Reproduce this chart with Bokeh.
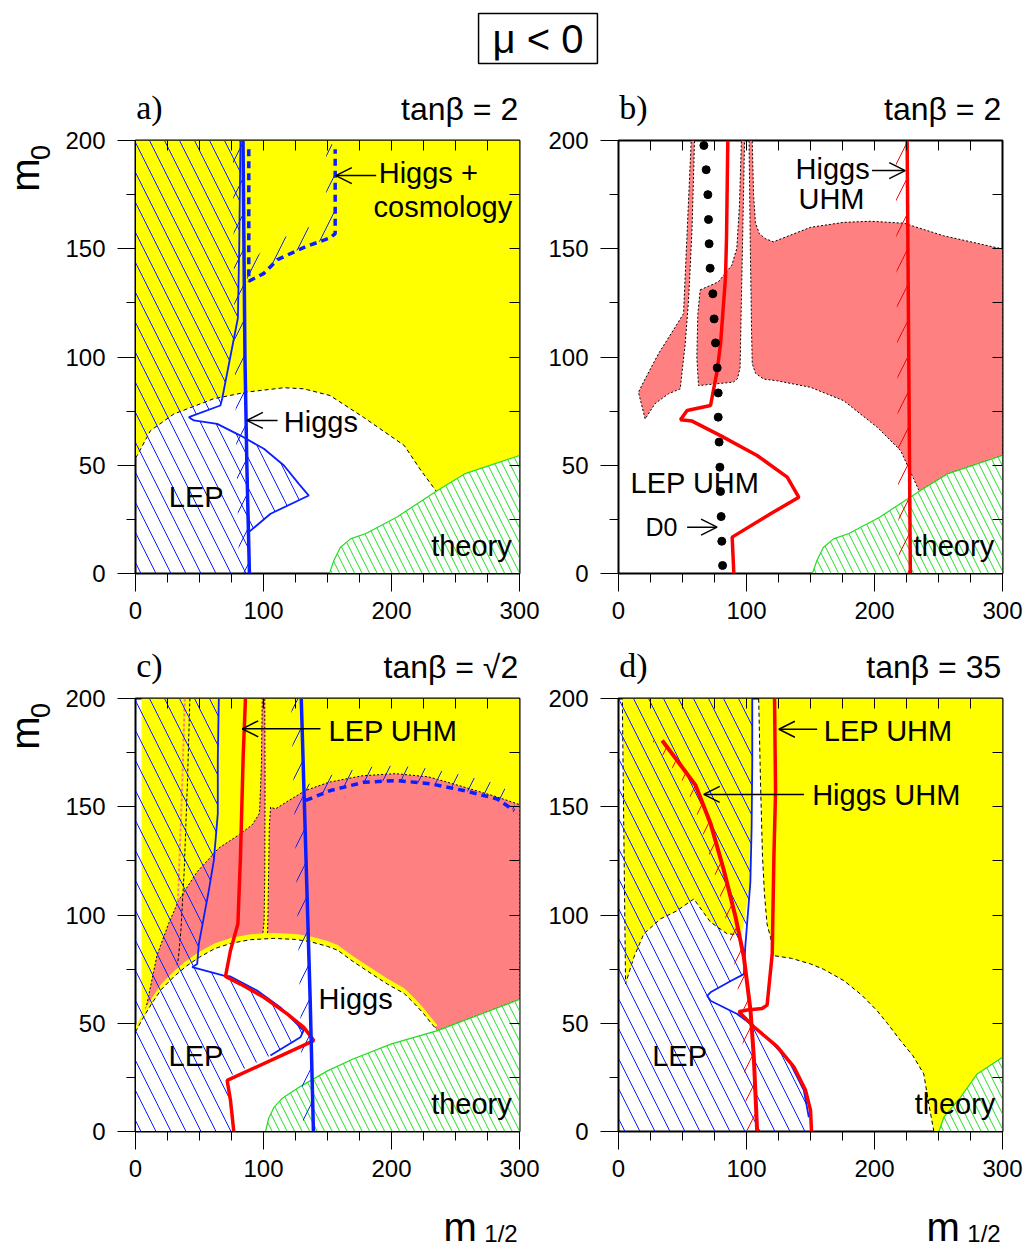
import math
from bokeh.plotting import figure
from bokeh.models import Label, Arrow, OpenHead, LinearAxis, FixedTicker, Range1d
from bokeh.layouts import gridplot, column
from bokeh.embed import file_html
from bokeh.resources import INLINE

# ---------------- data (m_1/2 , m_0) ----------------
X_TICKS = [0, 100, 200, 300]
X_MINOR = [25, 50, 75, 125, 150, 175, 225, 250, 275]
Y_TICKS = [0, 50, 100, 150, 200]
Y_MINOR = [25, 75, 125, 175]
X_INNER = [25, 50, 75, 100, 125, 150, 175, 200, 225, 250, 275]
Y_INNER = [25, 50, 75, 100, 125, 150, 175]

# theory-excluded boundary (panels a, b)
THEORY_AB_X = [151.5, 155, 160, 168, 180, 204, 235, 257, 300]
THEORY_AB_Y = [0, 6, 12, 16, 18.5, 26, 38, 46, 54.5]

# panel a
A_ARC_X = [0, 1.3, 11.7, 30, 61, 87, 116, 131.5, 152, 178, 210, 223, 235]
A_ARC_Y = [53.5, 54.5, 66, 73.7, 80.7, 83.8, 85.8, 85.3, 82.2, 72.2, 59.1, 47.6, 38]
A_LEP_X = [0, 0, 82, 81, 80, 67.7, 66.3, 41.7, 45.6, 63.8, 82, 100.3, 116, 127.6, 135.4, 105.5, 88.5, 89]
A_LEP_Y = [0, 200, 200, 150, 118, 80.7, 77.6, 72.2, 70.7, 69.1, 63.7, 57.6, 49.9, 41.4, 36, 27.6, 19.1, 0]
A_HIGGS_X = [84, 85.5, 87, 89]
A_HIGGS_Y = [200, 100, 50, 0]
A_HC_X = [88.5, 88.5, 100, 111, 133, 152, 156, 156]
A_HC_Y = [196, 135, 138.5, 145, 151, 155, 157, 196]

# panel b
B_WING_X = [56.8, 59.4, 57.5, 55.5, 54.7, 52.1, 48.2, 39, 28.6, 20.8, 15.6, 19.5, 31.2, 44.3, 50.8, 53.4]
B_WING_Y = [200, 200, 160, 135, 126, 106, 85.3, 83, 78.5, 71.4, 83.7, 88.4, 101.5, 113.8, 120, 154.7]
B_MID_X = [63.8, 78, 88.5, 92.4, 94.5, 96, 98.5, 97.5, 96.5, 96, 95, 93, 89.8, 62.5, 61.2, 62]
B_MID_Y = [131, 134.7, 142.4, 150, 170, 200, 200, 170, 140, 126, 95.3, 90, 88.4, 86.8, 100, 120]
B_RIGHT_X = [102, 104.5, 105.5, 107, 110, 114.6, 121, 150, 176, 197, 223, 254, 300, 300, 257, 235,
             220.4, 202.2, 176, 150, 124, 113.5, 107, 104.5, 104, 103]
B_RIGHT_Y = [200, 200, 175, 162, 157, 154.7, 153.2, 159.9, 162.2, 162.7, 161.8, 156, 149.9, 54.5, 46, 38,
             56.8, 67.5, 79.8, 86, 89, 89.8, 92.5, 97, 110, 150]
B_D0_X = [66.7, 68.5, 69.8, 70.3, 70.8, 71.6, 73.7, 74.7, 75.8, 77.1, 77.9, 77.9, 78.6, 79.2, 79.7, 80.2, 80.7, 81.3]
B_D0_Y = [197.7, 186.5, 175, 163.5, 152.3, 141, 129.2, 117.6, 106.5, 95, 83.4, 72.2, 60.7, 49.1, 37.9, 26.3, 14.9, 3.7]
B_LEPUHM_X = [85.4, 84.4, 83.6, 79.7, 77.1, 71.9, 53.6, 48.4, 57.5, 79.7, 108.3, 131.8, 140.9, 118.8, 88.8, 90.1]
B_LEPUHM_Y = [200, 155.3, 136.8, 106, 93.7, 77.6, 75.3, 71, 70.4, 63.7, 54.5, 44.5, 35.2, 27.6, 16.8, 0]
B_HIGGSUHM_X = [225.5, 228]
B_HIGGSUHM_Y = [200, 0]

# panel c
C_THEORY_X = [101.6, 104, 108, 115, 128, 150, 170, 200, 236, 260, 300]
C_THEORY_Y = [0, 6, 11, 15.5, 20.5, 28, 33.5, 40.5, 46.6, 52, 61]
C_ARC_X = [0, 5, 12, 20, 30, 40, 50, 62, 75, 90, 108, 125, 137, 150, 158, 170, 184, 197, 210, 218, 225, 231, 236]
C_ARC_Y = [46, 51.5, 58.5, 65.5, 71.5, 76.5, 80.5, 84.5, 87, 88.6, 89.2, 88.7, 87.6, 85.5, 83.7, 78.5, 73, 68,
           63.7, 59, 54.5, 50, 46.6]
C_YELLOW_X = [4.7, 300, 300, 4.7]
C_YELLOW_Y = [0, 0, 200, 200]
C_LOBE_X = [3.5, 10, 16.9, 26, 33.9, 48.2, 65.1, 80.7, 91.1, 96.9, 98.4, 99, 101, 101.2, 101, 100.5, 99, 90, 75,
            62, 50, 40, 30, 20, 12, 5]
C_LOBE_Y = [44, 62, 81.6, 96.2, 107, 120, 130.9, 137, 141.6, 147, 170, 200, 200, 160, 120, 97, 89, 87, 85,
            82.5, 79, 75, 70, 64.5, 58, 50]
C_RIGHT_X = [103, 103.5, 104, 104.5, 105.5, 109.4, 119.8, 132.8, 151, 177, 203, 229, 255, 281, 300, 300, 236,
             225, 210, 184, 158, 137, 115]
C_RIGHT_Y = [88, 100, 120, 140, 149.8, 149, 152.9, 157.5, 161.3, 164.3, 165.3, 163.8, 159.4, 154.8, 151, 61,
             46.6, 54.5, 63.7, 73, 83.7, 87.6, 89.2]
C_DL1_X = [38.5, 36.5, 34, 32.5, 30.5, 29.5]
C_DL1_Y = [200, 160, 120, 93, 80, 76]
C_DL2_X = [42.5, 40.5, 38, 35.5, 33.5, 32.5]
C_DL2_Y = [200, 160, 120, 93, 80, 77]
C_LEP_X = [0, 0, 65.1, 64.3, 64.3, 61.2, 57.3, 49.5, 48.2, 44.3, 69, 74.2, 95, 113, 131.3, 128.8, 105.4, 71.6,
           72.5, 74, 75]
C_LEP_Y = [0, 200, 200, 172.9, 146.8, 125.2, 111.4, 86.7, 77.4, 75.9, 72, 71.6, 65.1, 57.4, 46.6, 43.5, 35.1,
           25.1, 15, 5, 0]
C_LEPUHM_X = [85.9, 84.1, 82, 80, 74.2, 70.3, 82, 100.3, 118.5, 131.5, 139.3, 71.6, 74.2, 76.8]
C_LEPUHM_Y = [200, 172.9, 126.7, 95.9, 83.6, 71.6, 68.1, 62, 54.3, 48.1, 42, 23.6, 14.4, 0]
C_HIGGS_X = [129.5, 132, 134.5, 136.5, 139]
C_HIGGS_Y = [200, 150, 100, 60, 0]
C_HC_X = [133, 152.3, 178.4, 204.4, 230.5, 256.5, 282.6, 296]
C_HC_Y = [152.9, 157.5, 161.3, 162.1, 160.6, 157.5, 153.6, 148.2]

# panel d
D_YL_X = [3, 104.5, 104.5, 104, 103, 101.8, 98, 95.8, 84.9, 71.9, 58.8, 45.8, 32.8, 19.8, 12, 5.5]
D_YL_Y = [200, 200, 170, 140, 120, 111.6, 96.2, 90.8, 91.3, 96.7, 107.4, 102, 98.2, 91.3, 80.5, 68.2]
D_YR_X = [109.5, 300, 300, 280.2, 267.2, 254.2, 250.3, 246.4, 242, 238.5, 230, 220.3, 210, 202, 190, 176, 160,
          150, 135, 121.4, 118.8, 116, 114, 112.5, 111]
D_YR_Y = [200, 200, 34.3, 26.6, 15.8, 6.6, 0, 0, 14, 26.6, 35, 42, 50, 55.8, 63, 69.7, 75, 77.4, 80, 81.2,
          89.6, 96, 110, 127, 160]
D_THEORY_X = [250.3, 254.2, 267.2, 280.2, 300]
D_THEORY_Y = [0, 6.6, 15.8, 26.6, 34.3]
D_LEP_X = [0, 0, 104.5, 104.5, 104, 103, 101, 99, 98, 88, 71.9, 69.3, 71.9, 92.7, 103, 118.7, 134.4, 144.8,
           148.7, 148.7]
D_LEP_Y = [0, 200, 200, 170, 140, 115, 100, 85, 72.7, 69.6, 64.3, 62.7, 60.4, 54.3, 49.7, 42, 31.3, 19, 6.6, 0]
D_LEPUHM_X = [121.9, 122.7, 121.4, 120.1, 116.1, 112.2, 100.5, 94, 96.6, 105.7, 124, 137, 146.1, 150, 150.8]
D_LEPUHM_Y = [200, 157.3, 126.7, 82.1, 58.4, 56.8, 56.1, 55.3, 53.8, 48.4, 39.2, 29.9, 19.1, 9.9, 0]
D_HIGGSUHM_X = [34.1, 45.8, 60.1, 71.9, 82.3, 91.4, 97.9, 103.1, 105.7, 108.3]
D_HIGGSUHM_Y = [180.6, 171.4, 160, 142.3, 120.7, 99.2, 80.7, 56.1, 34.6, 0]

# ---------------- styles ----------------
YELLOW = "#FFFF00"
SALMON = "#FF8080"
BLUE = "#0A1EFF"
RED = "#FF0000"
GREEN = "#22DD22"
SANS = "Liberation Sans"
SERIF = "Liberation Serif"
FW, FH = 384, 433          # frame size of every panel
TOPB = 12                  # border above each panel frame (room for the "200" tick label)
BOTB = 58                  # border below the lower panels
FOOT = 53                  # height of the strip holding the m_1/2 labels


def panel(left, right, top, bottom):
    p = figure(frame_width=FW, frame_height=FH, x_range=Range1d(0, 300), y_range=Range1d(0, 200),
               output_backend="svg", toolbar_location=None, tools="",
               min_border_left=left, min_border_right=right, min_border_top=top, min_border_bottom=bottom,
               background_fill_color="white", border_fill_color="white")
    p.outline_line_color = "black"
    p.outline_line_width = 2
    p.xgrid.visible = False
    p.ygrid.visible = False
    xa = p.xaxis[0]
    xa.ticker = FixedTicker(ticks=X_TICKS, minor_ticks=X_MINOR)
    ya = p.yaxis[0]
    ya.ticker = FixedTicker(ticks=Y_TICKS, minor_ticks=Y_MINOR)
    for ax in (xa, ya):
        ax.major_tick_out = 18
        ax.major_tick_in = 0
        ax.minor_tick_out = 9
        ax.minor_tick_in = 0
        ax.major_tick_line_color = "black"
        ax.minor_tick_line_color = "black"
        ax.axis_line_color = "black"
        ax.major_label_text_font = SANS
        ax.major_label_text_font_size = "24px"
        ax.major_label_text_color = "black"
    xa.major_label_standoff = 10
    ya.major_label_standoff = 12
    top_ax = LinearAxis(ticker=FixedTicker(ticks=X_INNER), major_tick_in=10, major_tick_out=0,
                        minor_tick_in=0, minor_tick_out=0, axis_line_color=None,
                        major_label_overrides={t: "" for t in X_INNER}, major_label_standoff=0,
                        major_label_text_font_size="0px")
    right_ax = LinearAxis(ticker=FixedTicker(ticks=Y_INNER), major_tick_in=10, major_tick_out=0,
                          minor_tick_in=0, minor_tick_out=0, axis_line_color=None,
                          major_label_overrides={t: "" for t in Y_INNER}, major_label_standoff=0,
                          major_label_text_font_size="0px")
    p.add_layout(top_ax, "above")
    p.add_layout(right_ax, "right")
    return p


def text_fig(fw, fh, xr, yr, left=0, right=0, top=0, bottom=0):
    """plain strip for texts that lie outside the plot frames (frames align with the panels)"""
    f = figure(frame_width=fw, frame_height=fh, x_range=Range1d(*xr), y_range=Range1d(*yr),
               x_axis_type=None, y_axis_type=None, output_backend="svg", toolbar_location=None,
               tools="", min_border=0, min_border_left=left, min_border_right=right,
               min_border_top=top, min_border_bottom=bottom,
               background_fill_color="white", border_fill_color="white")
    f.grid.visible = False
    f.outline_line_color = None
    return f


def lab(p, x, y, text, size="29px", align="left", font=SANS, angle=0.0, baseline="middle"):
    p.add_layout(Label(x=x, y=y, text=text, text_font=font, text_font_size=size, text_align=align,
                       text_baseline=baseline, text_color="black", angle=angle))


def arrow(p, x0, y0, x1, y1):
    p.add_layout(Arrow(end=OpenHead(size=16, line_width=1.5, line_color="black"),
                       x_start=x0, y_start=y0, x_end=x1, y_end=y1, line_width=1.5, line_color="black"))


def strip(xs, ys, dx, dy):
    """band on one side of a boundary line (for the one-sided hatching)"""
    return (list(xs) + [x + dx for x in reversed(xs)], list(ys) + [y + dy for y in reversed(ys)])


def hatch_strip(p, xs, ys, dx, dy, color, scale=36):
    sx, sy = strip(xs, ys, dx, dy)
    p.patch(sx, sy, fill_color=None, line_color=None, hatch_pattern="/", hatch_color=color,
            hatch_scale=scale, hatch_weight=1)


def theory(p, tx, ty):
    px = list(tx) + [300, tx[0]]
    py = list(ty) + [0, 0]
    p.patch(px, py, fill_color="white", line_color=None, hatch_pattern="\\", hatch_color=GREEN,
            hatch_scale=15, hatch_weight=1)
    p.line(tx, ty, line_color=GREEN, line_width=1.2)


def lep_hatch(p, xs, ys):
    p.patch(xs, ys, fill_color=None, line_color=None, hatch_pattern="\\", hatch_color=BLUE,
            hatch_scale=30, hatch_weight=1)


# ---------------- panel a ----------------
pa = panel(75, 25, TOPB, 60)
ya_x = list(A_ARC_X) + THEORY_AB_X[THEORY_AB_X.index(235) + 1:] + [300, 0]
ya_y = list(A_ARC_Y) + THEORY_AB_Y[THEORY_AB_X.index(235) + 1:] + [200, 200]
pa.patch(ya_x, ya_y, fill_color=YELLOW, line_color=None)
pa.line(A_ARC_X, A_ARC_Y, line_color="black", line_width=1, line_dash="4 3")
theory(pa, THEORY_AB_X, THEORY_AB_Y)
lep_hatch(pa, A_LEP_X, A_LEP_Y)
hatch_strip(pa, A_HIGGS_X, A_HIGGS_Y, -8, 0, BLUE)
hatch_strip(pa, A_HC_X[1:], A_HC_Y[1:], -7, 7, BLUE)
pa.line(A_LEP_X[2:-1], A_LEP_Y[2:-1], line_color=BLUE, line_width=1.8)
pa.line(A_HIGGS_X, A_HIGGS_Y, line_color=BLUE, line_width=3.5)
pa.line(A_HC_X, A_HC_Y, line_color=BLUE, line_width=3.5, line_dash="7 5")
lab(pa, 190, 184.8, "Higgs +")
lab(pa, 186, 169.5, "cosmology")
arrow(pa, 188, 183.8, 156.5, 183.8)
lab(pa, 115.9, 69.9, "Higgs")
arrow(pa, 111, 70.7, 87, 70.7)
lab(pa, 26, 35.2, "LEP")
lab(pa, 231, 12.9, "theory")

# ---------------- panel b ----------------
pb = panel(74, 26, TOPB, 60)
for xs, ys in ((B_WING_X, B_WING_Y), (B_MID_X, B_MID_Y), (B_RIGHT_X, B_RIGHT_Y)):
    pb.patch(xs, ys, fill_color=SALMON, line_color="black", line_width=1, line_dash="2 2")
theory(pb, THEORY_AB_X, THEORY_AB_Y)
hatch_strip(pb, B_HIGGSUHM_X, B_HIGGSUHM_Y, -9, 0, RED)
pb.line(B_HIGGSUHM_X, B_HIGGSUHM_Y, line_color=RED, line_width=3.5)
pb.line(B_LEPUHM_X, B_LEPUHM_Y, line_color=RED, line_width=3.5)
pb.scatter(B_D0_X, B_D0_Y, size=8, color="black")
lab(pb, 138.3, 186.9, "Higgs")
lab(pb, 140.6, 173, "UHM")
arrow(pb, 198, 186.1, 224, 186.1)
lab(pb, 9.4, 41.7, "LEP UHM")
lab(pb, 21.1, 21.4, "D0", size="25px")
arrow(pb, 53.6, 21.4, 77, 21.4)
lab(pb, 230.5, 12.9, "theory")

# ---------------- panel c ----------------
pc = panel(75, 25, TOPB, BOTB)
pc.patch(C_YELLOW_X, C_YELLOW_Y, fill_color=YELLOW, line_color=None)
for xs, ys in ((C_LOBE_X, C_LOBE_Y), (C_RIGHT_X, C_RIGHT_Y)):
    pc.patch(xs, ys, fill_color=SALMON, line_color="black", line_width=1, line_dash="2 2")
pc.line(C_DL1_X, C_DL1_Y, line_color=SALMON, line_width=2, line_dash="3 2")
pc.line(C_DL2_X, C_DL2_Y, line_color="black", line_width=1, line_dash="3 2")
margin_x = list(C_ARC_X) + [C_THEORY_X[0], 0]
margin_y = [y + 2.5 for y in C_ARC_Y] + [0, 0]
pc.patch(margin_x, margin_y, fill_color=YELLOW, line_color=None)
white_x = list(C_ARC_X) + C_THEORY_X[:C_THEORY_X.index(236)][::-1] + [0]
white_y = list(C_ARC_Y) + C_THEORY_Y[:C_THEORY_X.index(236)][::-1] + [0]
pc.patch(white_x, white_y, fill_color="white", line_color=None)
pc.line(C_ARC_X, C_ARC_Y, line_color="black", line_width=1, line_dash="4 3")
theory(pc, C_THEORY_X, C_THEORY_Y)
lep_hatch(pc, C_LEP_X, C_LEP_Y)
hatch_strip(pc, C_HIGGS_X, C_HIGGS_Y, -8, 0, BLUE)
hatch_strip(pc, C_HC_X, C_HC_Y, 0, 7, BLUE)
pc.line(C_LEP_X[2:-4], C_LEP_Y[2:-4], line_color=BLUE, line_width=1.8)
pc.line(C_LEPUHM_X, C_LEPUHM_Y, line_color=RED, line_width=3.5)
pc.line(C_HIGGS_X, C_HIGGS_Y, line_color=BLUE, line_width=3.5)
pc.line(C_HC_X, C_HC_Y, line_color=BLUE, line_width=3.5, line_dash="7 5")
lab(pc, 150.8, 185.2, "LEP UHM")
arrow(pc, 144.5, 186, 83.4, 186)
lab(pc, 143, 61.3, "Higgs")
lab(pc, 25.8, 35.1, "LEP")
lab(pc, 231, 12.5, "theory")

# ---------------- panel d ----------------
pd_ = panel(74, 26, TOPB, BOTB)
for xs, ys in ((D_YL_X, D_YL_Y), (D_YR_X, D_YR_Y)):
    pd_.patch(xs, ys, fill_color=YELLOW, line_color=None)
pd_.line(D_YL_X[7:] + [D_YL_X[0]], D_YL_Y[7:] + [D_YL_Y[0]], line_color="black", line_width=1, line_dash="4 3")
pd_.line(D_YR_X[7:] + [D_YR_X[0]], D_YR_Y[7:] + [D_YR_Y[0]], line_color="black", line_width=1, line_dash="4 3")
theory(pd_, D_THEORY_X, D_THEORY_Y)
lep_hatch(pd_, D_LEP_X, D_LEP_Y)
hatch_strip(pd_, D_HIGGSUHM_X, D_HIGGSUHM_Y, -8, 0, RED, 32)
pd_.line(D_LEP_X[2:-1], D_LEP_Y[2:-1], line_color=BLUE, line_width=1.8)
pd_.line(D_LEPUHM_X, D_LEPUHM_Y, line_color=RED, line_width=3.5)
pd_.line(D_HIGGSUHM_X, D_HIGGSUHM_Y, line_color=RED, line_width=4)
lab(pd_, 160.4, 185.2, "LEP UHM")
arrow(pd_, 155.2, 185.8, 125.3, 185.8)
lab(pd_, 151.3, 155.2, "Higgs UHM")
arrow(pd_, 145, 155.7, 66.6, 155.7)
lab(pd_, 26.3, 35.1, "LEP")
lab(pd_, 231.4, 12.5, "theory")

# ---------------- text strips outside the frames ----------------
ptop = text_fig(1028, 70, (0, 1028), (0, 70))
ptop.add_layout(Label(x=537.5, y=32, text="μ < 0", text_font=SANS, text_font_size="40px",
                      text_align="center", text_baseline="middle", text_color="black",
                      border_line_color="black", border_line_width=1.5, padding=(14, 3)))


def header(left, right, h, letter, tanb, ly, ty):
    f = text_fig(FW, h, (0, 300), (0, h), left=left, right=right)
    lab(f, 0.5, ly, letter, size="34px", font=SERIF)
    lab(f, 299, ty, tanb, size="32px", align="right")
    return f


hdr_a = header(75, 25, 58, "a)", "tanβ = 2", 21, 20)
hdr_b = header(74, 26, 58, "b)", "tanβ = 2", 21, 20)
hdr_c = header(75, 25, 53, "c)", "tanβ = √2", 21, 20)
hdr_d = header(74, 26, 53, "d)", "tanβ = 35", 21, 20)


def ylabel(bottom):
    f = text_fig(60, FH, (0, 60), (0, 200), top=TOPB, bottom=bottom)
    lab(f, 24, 184, "m", size="40px", align="center", angle=math.pi / 2)
    lab(f, 40, 194.5, "0", size="27px", align="center", angle=math.pi / 2)
    return f


ylab_top = ylabel(60)
ylab_bot = ylabel(BOTB)


def xlabel(left, right):
    f = text_fig(FW, FOOT, (0, 300), (0, FOOT), left=left, right=right)
    lab(f, 240.6, 16, "m", size="40px", baseline="alphabetic")
    lab(f, 272.5, 9, "1/2", size="24px", baseline="alphabetic")
    return f


ftr_c = xlabel(75, 25)
ftr_d = xlabel(74, 26)

grid = gridplot([[None, hdr_a, hdr_b],
                 [ylab_top, pa, pb],
                 [None, hdr_c, hdr_d],
                 [ylab_bot, pc, pd_],
                 [None, ftr_c, ftr_d]], toolbar_location=None)
layout = column(ptop, grid)
open("out.html", "w").write(file_html(layout, INLINE))
